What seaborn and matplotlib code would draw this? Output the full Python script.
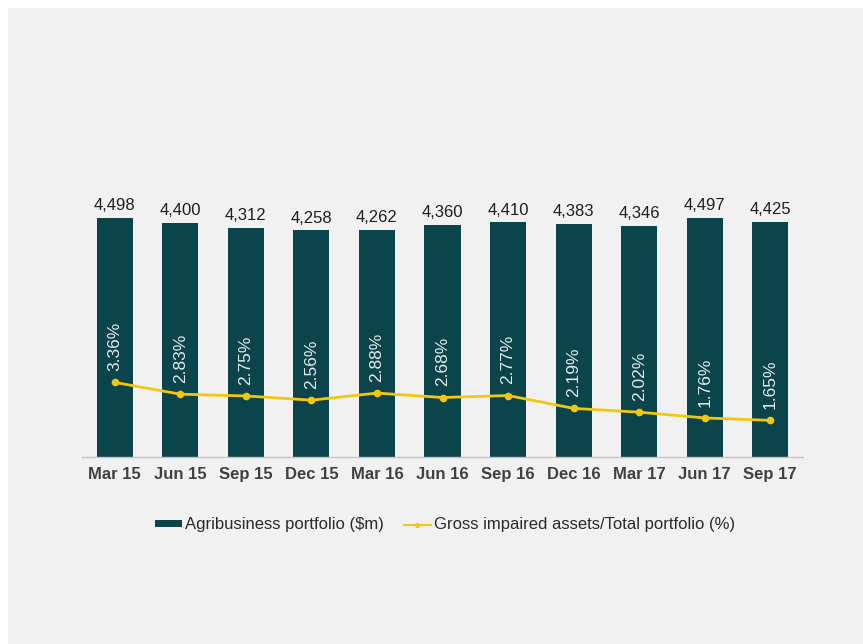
import numpy as np
import pandas as pd
import matplotlib
matplotlib.use('Agg')
import matplotlib.pyplot as plt
import seaborn as sns
from matplotlib.patches import Rectangle, Patch
from matplotlib.lines import Line2D

# data
quarters = ['Mar 15', 'Jun 15', 'Sep 15', 'Dec 15', 'Mar 16', 'Jun 16',
            'Sep 16', 'Dec 16', 'Mar 17', 'Jun 17', 'Sep 17']
portfolio = [4498, 4400, 4312, 4258, 4262, 4360, 4410, 4383, 4346, 4497, 4425]
impaired_pct = [3.36, 2.83, 2.75, 2.56, 2.88, 2.68, 2.77, 2.19, 2.02, 1.76, 1.65]

bar_label = 'Agribusiness portfolio ($m)'
line_label = 'Gross impaired assets/Total portfolio (%)'

df = pd.DataFrame({'quarter': quarters, 'portfolio': portfolio, 'pct': impaired_pct})

sns.set_style('white')
plt.rcParams['font.family'] = ['Liberation Sans', 'DejaVu Sans']

bar_col = '#0b444a'
line_col = '#f2c80f'
bg = '#f1f1f1'

fig = plt.figure(figsize=(8.63, 6.44), dpi=100, facecolor='white')
# grey slide panel
fig.patches.append(Rectangle((8 / 863, 0), 1, 1 - 8 / 644, transform=fig.transFigure,
                             facecolor=bg, edgecolor='none', zorder=-10))

ax = fig.add_axes([82 / 863, 1 - 457 / 644, (803 - 82) / 863, 307 / 644])
ax.set_facecolor('none')

sns.barplot(data=df, x='quarter', y='portfolio', color=bar_col, width=0.55,
            saturation=1, linewidth=0, edgecolor='none', ax=ax)
ax.set_ylim(0, 5771)
ax.set_xlim(-0.5, len(quarters) - 0.5)

for i, v in enumerate(portfolio):
    ax.text(i, v + 90, f'{v:,}', ha='center', va='bottom', fontsize=12, color='#1e1e1e')

ax2 = ax.twinx()
sns.pointplot(data=df, x='quarter', y='pct', color=line_col, markers='o',
              markersize=4, linewidth=2, ax=ax2)
ax2.set_ylim(0, 13.83)
ax2.set_xlim(-0.5, len(quarters) - 0.5)

for i, p in enumerate(impaired_pct):
    ax2.text(i, p + 0.5, f'{p:.2f}%', ha='center', va='bottom', rotation=90,
             fontsize=12.5, color='#e4ecec')

for a in (ax, ax2):
    a.set_xlabel('')
    a.set_ylabel('')
    a.set_yticks([])
    for s in ['top', 'left', 'right']:
        a.spines[s].set_visible(False)
ax2.spines['bottom'].set_visible(False)
ax.spines['bottom'].set_color('#c4c4c4')
ax.spines['bottom'].set_linewidth(1)
ax.tick_params(axis='x', length=0, pad=7, labelsize=12, labelcolor='#404040')
for t in ax.get_xticklabels():
    t.set_fontweight('bold')
ax2.tick_params(axis='x', length=0, labelbottom=False)

handles = [Patch(facecolor=bar_col, edgecolor='none'),
           Line2D([0], [0], color=line_col, lw=1.5, marker='o', markersize=2.5)]
fig.legend(handles, [bar_label, line_label], loc='center',
           bbox_to_anchor=(445 / 863, 1 - 525 / 644), ncol=2, frameon=False,
           fontsize=12, handlelength=1.6, handleheight=0.35, handletextpad=0.2,
           columnspacing=1.2, labelcolor='#2a2a2a')

fig.savefig('out.png', dpi=100, facecolor=fig.get_facecolor())
